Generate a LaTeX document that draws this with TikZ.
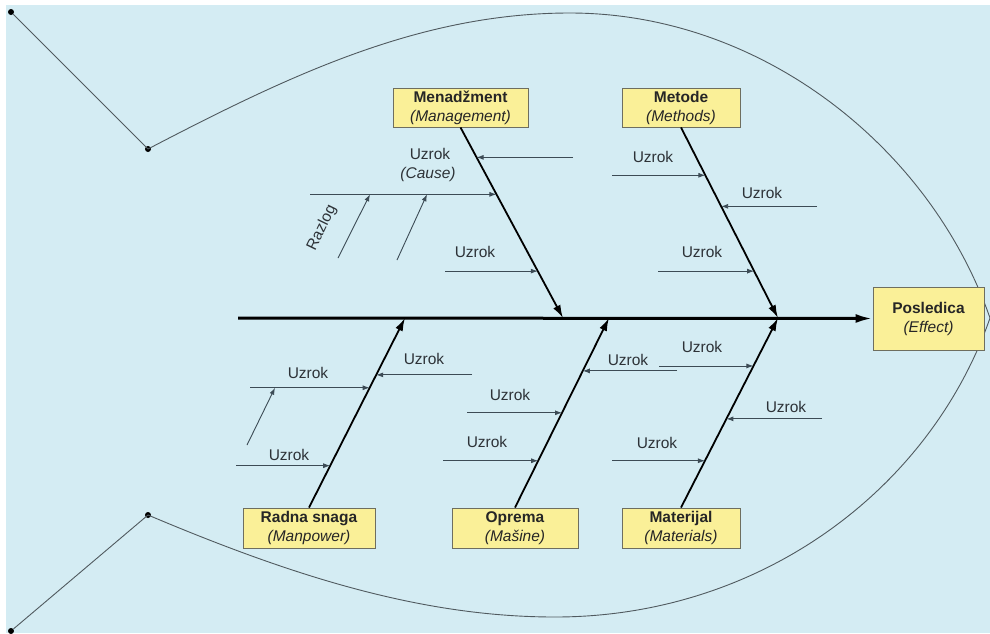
\documentclass[tikz,border=0pt]{standalone}
\usepackage{fontspec}
\setmainfont{Liberation Sans}
\usetikzlibrary{arrows.meta}
\definecolor{sea}{RGB}{212,236,243}
\definecolor{boxfill}{RGB}{250,240,152}
\definecolor{boxline}{RGB}{110,110,95}
\definecolor{causeline}{RGB}{60,75,85}
\definecolor{causetext}{RGB}{45,50,55}
\definecolor{outline}{RGB}{80,90,95}
\begin{document}
\begin{tikzpicture}[x=1pt,y=-1pt,
  catbox/.style={draw=boxline, line width=0.9pt, fill=boxfill, inner sep=0pt,
    align=center, text=black!85, font=\fontsize{15.5}{19}\selectfont},
  causelbl/.style={text=causetext, inner sep=0pt, font=\fontsize{15.5}{18}\selectfont},
  causearrow/.style={draw=causeline, line width=0.9pt, -{Latex[length=7pt,width=5pt]}},
  bonearrow/.style={line width=1.8pt, -{Latex[length=13pt,width=8pt]}},
  spinearrow/.style={line width=3pt, -{Latex[length=17pt,width=9pt]}},
  fishline/.style={draw=outline, line width=0.9pt},
  joint/.style={circle, fill=black, inner sep=0pt, minimum size=6pt}]

\useasboundingbox (0,0) rectangle (990,633);
\fill[white] (0,0) rectangle (990,633);
\fill[sea] (6,5) rectangle (990,633);

% fish outline: tail and body
\node[joint] (tailA) at (11,12) {};
\node[joint] (tailB) at (148,149) {};
\node[joint] (tailC) at (148,515) {};
\node[joint] (tailD) at (11,631) {};
\coordinate (nose) at (990,318);
\coordinate (peak) at (570,13);
\coordinate (belly) at (555,617);
\draw[fishline] (tailA) -- (tailB.center);
\draw[fishline] (tailD) -- (tailC.center);
\draw[fishline] (tailB.center) .. controls (290,75) and (420,13) .. (peak)
  .. controls (760,13) and (930,146) .. (nose);
\draw[fishline] (tailC.center) .. controls (290,575) and (420,617) .. (belly)
  .. controls (760,617) and (930,490) .. (nose);

% category boxes
\node[catbox, minimum width=135pt, minimum height=39pt] (mgmt) at (460.5,107.5)
  {\textbf{Menadžment}\\\textit{(Management)}};
\node[catbox, minimum width=118pt, minimum height=39pt] (meth) at (681,107.5)
  {\textbf{Metode}\\\textit{(Methods)}};
\node[catbox, minimum width=111pt, minimum height=63pt] (effect) at (928.5,318.5)
  {\textbf{Posledica}\\\textit{(Effect)}};
\node[catbox, minimum width=132pt, minimum height=40pt] (man) at (309,528)
  {\textbf{Radna snaga}\\\textit{(Manpower)}};
\node[catbox, minimum width=126pt, minimum height=40pt] (equip) at (515,528)
  {\textbf{Oprema}\\\textit{(Mašine)}};
\node[catbox, minimum width=118pt, minimum height=40pt] (mat) at (681,528)
  {\textbf{Materijal}\\\textit{(Materials)}};

% spine
\coordinate (spineStart) at (238,318);
\draw[spinearrow] (spineStart) -- (effect.west);

% bones
\coordinate (mTip) at (563,318);
\coordinate (eTip) at (778,318);
\coordinate (rTip) at (405,318);
\coordinate (oTip) at (609,318);
\coordinate (aTip) at (778,318);
\draw[bonearrow] (mgmt.south) -- (mTip);
\draw[bonearrow] (meth.south) -- (eTip);
\draw[bonearrow] (man.north) -- (rTip);
\draw[bonearrow] (equip.north) -- (oTip);
\draw[bonearrow] (mat.north) -- (aTip);

% points on the bones where causes join
\path (mgmt.south) -- (mTip) coordinate[pos=0.157] (m1) coordinate[pos=0.351] (m2) coordinate[pos=0.754] (m3);
\path (meth.south) -- (eTip) coordinate[pos=0.251] (e1) coordinate[pos=0.414] (e2) coordinate[pos=0.754] (e3);
\path (man.north) -- (rTip) coordinate[pos=0.632] (r1) coordinate[pos=0.700] (r2) coordinate[pos=0.221] (r3);
\path (equip.north) -- (oTip) coordinate[pos=0.500] (o1) coordinate[pos=0.247] (o2) coordinate[pos=0.721] (o3);
\path (mat.north) -- (aTip) coordinate[pos=0.747] (a1) coordinate[pos=0.468] (a2) coordinate[pos=0.247] (a3);

% cause starts
\coordinate (m1s) at (573,0 |- m1);
\coordinate (m2s) at (310,0 |- m2);
\coordinate (m3s) at (445,0 |- m3);
\coordinate (e1s) at (612,0 |- e1);
\coordinate (e2s) at (817,0 |- e2);
\coordinate (e3s) at (658,0 |- e3);
\coordinate (r1s) at (250,0 |- r1);
\coordinate (r2s) at (472,0 |- r2);
\coordinate (r3s) at (236,0 |- r3);
\coordinate (o1s) at (467,0 |- o1);
\coordinate (o2s) at (443,0 |- o2);
\coordinate (o3s) at (677,0 |- o3);
\coordinate (a1s) at (659,0 |- a1);
\coordinate (a2s) at (822,0 |- a2);
\coordinate (a3s) at (612,0 |- a3);

\foreach \c in {m1,m2,m3,e1,e2,e3,r1,r2,r3,o1,o2,o3,a1,a2,a3}
  \draw[causearrow] (\c s) -- (\c);

% second-level reasons
\coordinate (z1s) at (338,258);
\coordinate (z1) at (370,0 |- m2);
\coordinate (z2s) at (397,260);
\coordinate (z2) at (427,0 |- m2);
\coordinate (z3s) at (247,445);
\coordinate (z3) at (275,0 |- r1);
\draw[causearrow] (z1s) -- (z1);
\draw[causearrow] (z2s) -- (z2);
\draw[causearrow] (z3s) -- (z3);

% labels
\node[causelbl] (lm1) at (430,154) {Uzrok};
\node[causelbl] (lm1b) at (428,174) {\textit{(Cause)}};
\node[causelbl] (lm3) at (475,252) {Uzrok};
\node[causelbl, rotate=64] (lz) at (322,228) {Razlog};
\node[causelbl] (le1) at (653,157) {Uzrok};
\node[causelbl] (le2) at (762,193) {Uzrok};
\node[causelbl] (le3) at (702,252) {Uzrok};
\node[causelbl] (lr1) at (308,373) {Uzrok};
\node[causelbl] (lr2) at (424,359) {Uzrok};
\node[causelbl] (lr3) at (289,455) {Uzrok};
\node[causelbl] (lo1) at (510,395) {Uzrok};
\node[causelbl] (lo2) at (487,442) {Uzrok};
\node[causelbl] (lo3) at (628,360) {Uzrok};
\node[causelbl] (la1) at (702,347) {Uzrok};
\node[causelbl] (la2) at (786,407) {Uzrok};
\node[causelbl] (la3) at (657,443) {Uzrok};
\end{tikzpicture}
\end{document}
